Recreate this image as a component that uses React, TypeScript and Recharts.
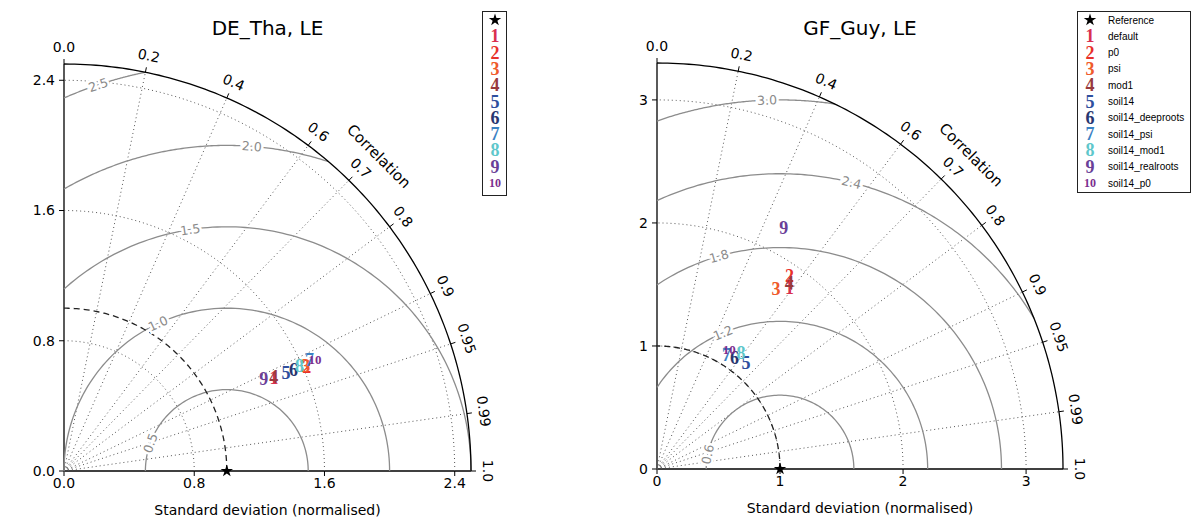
import React from 'react';
import { ScatterChart, Scatter, XAxis, YAxis, Symbols } from 'recharts';

// models (same order in both panels)
const modelLabels = ['1', '2', '3', '4', '5', '6', '7', '8', '9', '10'];
const modelNames = [
  'default',
  'p0',
  'psi',
  'mod1',
  'soil14',
  'soil14_deeproots',
  'soil14_psi',
  'soil14_mod1',
  'soil14_realroots',
  'soil14_p0',
];
const modelColors = [
  '#d9304f',
  '#e8312b',
  '#ef5a2a',
  '#983a3d',
  '#2f4f9e',
  '#283670',
  '#3c82c3',
  '#5ec7cb',
  '#6a3f98',
  '#7b2e8e',
];

// correlation axis
const corrTicks = [0, 0.2, 0.4, 0.6, 0.7, 0.8, 0.9, 0.95, 0.99, 1.0];
const corrTickLabels = ['0.0', '0.2', '0.4', '0.6', '0.7', '0.8', '0.9', '0.95', '0.99', '1.0'];

// DE_Tha, LE
const thaStdTicks = [0, 0.8, 1.6, 2.4];
const thaRmsLevels = [0.5, 1.0, 1.5, 2.0, 2.5];
const thaStd = [1.41, 1.622, 1.62, 1.412, 1.49, 1.539, 1.656, 1.584, 1.35, 1.687];
const thaCorr = [0.915, 0.919, 0.917, 0.912, 0.915, 0.916, 0.911, 0.913, 0.909, 0.914];

// GF_Guy, LE
const guyStdTicks = [0, 1, 2, 3];
const guyRmsLevels = [0.6, 1.2, 1.8, 2.4, 3.0];
const guyStd = [1.821, 1.903, 1.752, 1.854, 1.127, 1.098, 1.086, 1.162, 2.214, 1.137];
const guyCorr = [0.591, 0.566, 0.552, 0.58, 0.642, 0.573, 0.521, 0.588, 0.465, 0.517];

const H = 527;
const XH = 50;
const YW = 50;
const MARK_FONT = 'Liberation Serif';

type Pt = { x: number; y: number };

const Empty = () => <g />;

const MarkerText = (label: string, color: string) => (props: any) => (
  <text
    x={props.cx}
    y={props.cy}
    textAnchor="middle"
    dominantBaseline="central"
    fill={color}
    fontFamily={MARK_FONT}
    fontWeight="bold"
    fontSize={label.length > 1 ? 13 : 18}
  >
    {label}
  </text>
);

const CorrTick = (props: any) => {
  const { cx, cy, payload } = props;
  const t = Math.acos(payload.r);
  const dx = Math.cos(t);
  const dy = -Math.sin(t);
  const lx = cx + dx * 17;
  const ly = cy + dy * 17;
  const rot = 90 - (t * 180) / Math.PI;
  return (
    <g>
      <line x1={cx} y1={cy} x2={cx + dx * 5} y2={cy + dy * 5} stroke="#000" strokeWidth={1} />
      <text
        x={lx}
        y={ly}
        transform={`rotate(${rot} ${lx} ${ly})`}
        textAnchor="middle"
        dominantBaseline="central"
        fontSize={14}
        fill="#000"
      >
        {payload.label}
      </text>
    </g>
  );
};

const CorrTitle = (props: any) => {
  const { cx, cy } = props;
  const d = 38 / Math.SQRT2;
  const lx = cx + d;
  const ly = cy - d;
  return (
    <text
      x={lx}
      y={ly}
      transform={`rotate(45 ${lx} ${ly})`}
      textAnchor="middle"
      dominantBaseline="central"
      fontSize={15}
      fill="#000"
    >
      Correlation
    </text>
  );
};

const RmsLabel = (props: any) => {
  const { cx, cy, payload } = props;
  const rot = 90 - payload.phi;
  return (
    <text
      x={cx}
      y={cy}
      transform={`rotate(${rot} ${cx} ${cy})`}
      textAnchor="middle"
      dominantBaseline="central"
      fontSize={12.5}
      fill="#8a8a8a"
      stroke="#fff"
      strokeWidth={5}
      paintOrder="stroke"
    >
      {payload.label}
    </text>
  );
};

const RefStar = (props: any) => (
  <Symbols cx={props.cx} cy={props.cy} type="star" size={48} fill="#000" />
);

type PanelProps = {
  title: string;
  left: number;
  width: number;
  plotLeft: number;
  plotTop: number;
  plotSize: number;
  rmax: number;
  stdTicks: number[];
  fmt: (v: number) => string;
  rmsLevels: number[];
  rmsLabelAngles: number[];
  std: number[];
  corr: number[];
};

const Panel = (p: PanelProps) => {
  const { rmax } = p;
  const clampPt = (x: number, y: number): Pt => ({
    x: Math.min(rmax, Math.max(0, x)),
    y: Math.min(rmax, Math.max(0, y)),
  });
  // circle arc centred on (cx, 0), angles in radians
  const arc = (cx: number, R: number, a0: number, a1: number): Pt[] => {
    const pts: Pt[] = [];
    const n = 120;
    for (let i = 0; i <= n; i++) {
      const a = a0 + ((a1 - a0) * i) / n;
      pts.push(clampPt(cx + R * Math.cos(a), R * Math.sin(a)));
    }
    return pts;
  };
  const clamp1 = (v: number) => Math.min(1, Math.max(-1, v));

  const stdArcs = p.stdTicks.filter((s) => s > 0).map((s) => arc(0, s, 0, Math.PI / 2));
  const rays = corrTicks
    .filter((r) => r > 0 && r < 1)
    .map((r) => [clampPt(0, 0), clampPt(rmax * r, rmax * Math.sqrt(1 - r * r))]);
  const rmsArcs = p.rmsLevels.map((R) => {
    const a0 = Math.acos(clamp1((rmax * rmax - 1 - R * R) / (2 * R)));
    const a1 = Math.acos(clamp1(-1 / R));
    return arc(1, R, a0, a1);
  });
  const rmsLabels = p.rmsLevels.map((R, i) => {
    const phi = p.rmsLabelAngles[i];
    const a = (phi * Math.PI) / 180;
    return { ...clampPt(1 + R * Math.cos(a), R * Math.sin(a)), phi, label: R.toFixed(1) };
  });
  const corrTickPts = corrTicks.map((r, i) => ({
    ...clampPt(rmax * r, rmax * Math.sqrt(1 - r * r)),
    r,
    label: corrTickLabels[i],
  }));
  const corrTitlePt = [clampPt(rmax * Math.SQRT1_2, rmax * Math.SQRT1_2)];
  const models = p.std.map((s, i) => [
    clampPt(s * p.corr[i], s * Math.sqrt(1 - p.corr[i] * p.corr[i])),
  ]);

  const margin = {
    top: p.plotTop,
    left: p.plotLeft - YW,
    right: p.width - p.plotLeft - p.plotSize,
    bottom: H - p.plotTop - p.plotSize - XH,
  };

  return (
    <div style={{ position: 'absolute', left: p.left, top: 0, width: p.width, height: H }}>
      <div
        style={{
          position: 'absolute',
          left: p.plotLeft - 100,
          width: p.plotSize + 200,
          top: 16,
          textAlign: 'center',
          fontSize: 20,
          lineHeight: '24px',
        }}
      >
        {p.title}
      </div>
      <ScatterChart width={p.width} height={H} margin={margin}>
        <XAxis
          type="number"
          dataKey="x"
          domain={[0, rmax]}
          ticks={p.stdTicks}
          interval={0}
          tickFormatter={p.fmt}
          height={XH}
          tickSize={5}
          axisLine={{ stroke: '#000', strokeWidth: 1.3 }}
          tickLine={{ stroke: '#000' }}
          tick={{ fill: '#000', fontSize: 14 }}
          label={{ value: 'Standard deviation (normalised)', position: 'insideBottom', offset: 6, fill: '#000', fontSize: 14 }}
        />
        <YAxis
          type="number"
          dataKey="y"
          domain={[0, rmax]}
          ticks={p.stdTicks}
          interval={0}
          tickFormatter={p.fmt}
          width={YW}
          tickSize={5}
          tickMargin={4}
          axisLine={{ stroke: '#000', strokeWidth: 1.3 }}
          tickLine={{ stroke: '#000' }}
          tick={{ fill: '#000', fontSize: 14 }}
        />
        {stdArcs.map((d, i) => (
          <Scatter
            key={`s${i}`}
            data={d}
            line={{ stroke: '#555', strokeWidth: 1, strokeDasharray: '1 3' }}
            lineType="joint"
            shape={Empty}
            isAnimationActive={false}
          />
        ))}
        {rays.map((d, i) => (
          <Scatter
            key={`r${i}`}
            data={d}
            line={{ stroke: '#555', strokeWidth: 1, strokeDasharray: '1 3' }}
            lineType="joint"
            shape={Empty}
            isAnimationActive={false}
          />
        ))}
        {rmsArcs.map((d, i) => (
          <Scatter
            key={`c${i}`}
            data={d}
            line={{ stroke: '#8c8c8c', strokeWidth: 1.3 }}
            lineType="joint"
            shape={Empty}
            isAnimationActive={false}
          />
        ))}
        <Scatter
          data={arc(0, 1, 0, Math.PI / 2)}
          line={{ stroke: '#222', strokeWidth: 1.3, strokeDasharray: '6 4' }}
          lineType="joint"
          shape={Empty}
          isAnimationActive={false}
        />
        <Scatter
          data={arc(0, rmax, 0, Math.PI / 2)}
          line={{ stroke: '#000', strokeWidth: 1.3 }}
          lineType="joint"
          shape={Empty}
          isAnimationActive={false}
        />
        <Scatter data={rmsLabels} shape={RmsLabel} isAnimationActive={false} />
        <Scatter data={corrTickPts} shape={CorrTick} isAnimationActive={false} />
        <Scatter data={corrTitlePt} shape={CorrTitle} isAnimationActive={false} />
        <Scatter data={[{ x: 1, y: 0 }]} shape={RefStar} isAnimationActive={false} />
        {models.map((d, i) => (
          <Scatter
            key={`m${i}`}
            name={modelNames[i]}
            data={d}
            shape={MarkerText(modelLabels[i], modelColors[i])}
            isAnimationActive={false}
          />
        ))}
      </ScatterChart>
    </div>
  );
};

const LegendSvg = ({ left, top, width, height, withNames }: any) => (
  <svg
    style={{ position: 'absolute', left, top }}
    width={width}
    height={height}
  >
    <rect x={0.5} y={0.5} width={width - 1} height={height - 1} fill="#fff" stroke="#222" strokeWidth={1} />
    <Symbols cx={13} cy={9} type="star" size={48} fill="#000" />
    {withNames && (
      <text x={31} y={9} dominantBaseline="central" fontSize={10} fontFamily="Liberation Sans">
        Reference
      </text>
    )}
    {modelLabels.map((lab, i) => {
      const y = 9 + 16.3 * (i + 1);
      return (
        <g key={lab}>
          <text
            x={13}
            y={y}
            textAnchor="middle"
            dominantBaseline="central"
            fill={modelColors[i]}
            fontFamily={MARK_FONT}
            fontWeight="bold"
            fontSize={lab.length > 1 ? 12 : 18}
          >
            {lab}
          </text>
          {withNames && (
            <text x={31} y={y} dominantBaseline="central" fontSize={10} fontFamily="Liberation Sans">
              {modelNames[i]}
            </text>
          )}
        </g>
      );
    })}
  </svg>
);

const App = () => (
  <div
    style={{
      position: 'absolute',
      left: 0,
      top: 0,
      width: 1193,
      height: H,
      background: '#fff',
      fontFamily: 'DejaVu Sans',
      overflow: 'hidden',
    }}
  >
    <Panel
      title="DE_Tha, LE"
      left={0}
      width={600}
      plotLeft={64}
      plotTop={64}
      plotSize={407}
      rmax={2.5}
      stdTicks={thaStdTicks}
      fmt={(v) => v.toFixed(1)}
      rmsLevels={thaRmsLevels}
      rmsLabelAngles={[160, 115, 98.6, 85.6, 108.4]}
      std={thaStd}
      corr={thaCorr}
    />
    <Panel
      title="GF_Guy, LE"
      left={600}
      width={593}
      plotLeft={57}
      plotTop={63}
      plotSize={406}
      rmax={3.3}
      stdTicks={guyStdTicks}
      fmt={(v) => String(v)}
      rmsLevels={guyRmsLevels}
      rmsLabelAngles={[168.5, 112.7, 106, 76, 92]}
      std={guyStd}
      corr={guyCorr}
    />
    <LegendSvg left={482} top={11} width={25} height={185} withNames={false} />
    <LegendSvg left={1077} top={11} width={114} height={182} withNames />
  </div>
);

export default App;
